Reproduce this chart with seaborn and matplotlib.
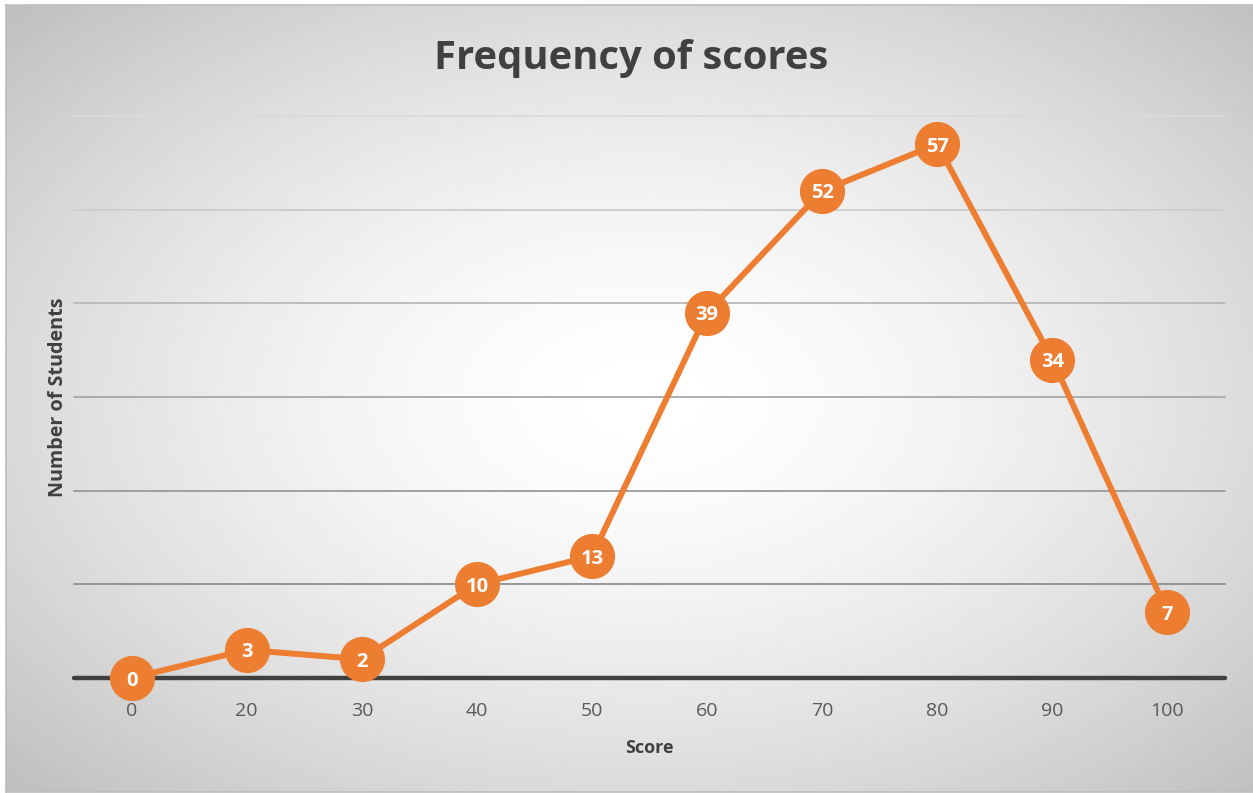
import numpy as np
import pandas as pd
import matplotlib
matplotlib.use("Agg")
import matplotlib.pyplot as plt
import seaborn as sns
from matplotlib.colors import LinearSegmentedColormap

scores = ["0", "20", "30", "40", "50", "60", "70", "80", "90", "100"]
students = [0, 3, 2, 10, 13, 39, 52, 57, 34, 7]
y_gridlines = [10, 20, 30, 40, 50, 60]

sns.set_theme(style="white")
plt.rcParams["font.family"] = ["Open Sans", "DejaVu Sans"]

W, H, DPI = 12.53, 7.93, 100
fig = plt.figure(figsize=(W, H), dpi=DPI)
fig.patch.set_facecolor("white")

# soft radial backdrop for the chart area
bg = fig.add_axes([6 / 1253, 1 / 793, 1 - 6 / 1253, 1 - 6 / 793], zorder=0)
nx, ny = 600, 400
gx, gy = np.meshgrid(np.linspace(0, 1, nx), np.linspace(0, 1, ny))
dx = (gx - 0.51) / 0.5
dy = (gy - 0.50) / 0.5
r = np.sqrt(dx ** 2 + dy ** 2) / np.sqrt(2)
shade = 1 - 0.25 * np.clip(r, 0, 1.2) ** 1.6
grey = LinearSegmentedColormap.from_list("g", ["#000000", "#ffffff"])
bg.imshow(shade, cmap=grey, vmin=0, vmax=1, aspect="auto", extent=[0, 1, 0, 1],
          interpolation="bilinear")
bg.set_xticks([]); bg.set_yticks([])
for s in bg.spines.values():
    s.set_color("#bdbdbd"); s.set_linewidth(1.2)
bg.spines["right"].set_visible(False)

ax = fig.add_axes([74 / 1253, 1 - 678 / 793, (1225 - 74) / 1253, (678 - 116) / 793], zorder=1)
ax.patch.set_alpha(0)

df = pd.DataFrame({"Score": scores, "Students": students})
orange = "#ED7D31"

# gridlines shade from light at top to darker near the baseline
gl_cols = ["#8e8e8e", "#9a9a9a", "#a8a8a8", "#b8b8b8", "#cccccc", "#dadada"]
for v, c in zip(y_gridlines, gl_cols):
    ax.axhline(v, color=c, lw=1.3, zorder=1)
ax.axhline(0, color="#404040", lw=3.2, zorder=2)

sns.pointplot(data=df, x="Score", y="Students", order=scores, color=orange,
              markers="o", markersize=32.5, linewidth=4.3, errorbar=None, ax=ax)
for coll in ax.collections:
    coll.set_zorder(3)
for ln in ax.lines:
    ln.set_zorder(3)
    ln.set_clip_on(False)
    ln.set_markeredgewidth(0)

for i, v in enumerate(students):
    ax.text(i, v, str(v), ha="center", va="center_baseline", color="white",
            fontsize=14.5, fontweight="bold", zorder=5)

ax.set_xlim(-0.5, len(scores) - 0.5)
ax.set_ylim(0, 60)
ax.set_yticks([])
ax.tick_params(axis="x", length=0, labelsize=14, labelcolor="#595959", pad=17)
for s in ax.spines.values():
    s.set_visible(False)

ax.set_xlabel("Score", fontsize=13, fontweight="bold", color="#404040", labelpad=14)
ax.set_ylabel("Number of Students", fontsize=14.2, fontweight="bold", color="#404040", labelpad=4)

fig.text(631 / 1253, 1 - 58 / 793, "Frequency of scores", ha="center", va="center",
         fontsize=28.8, fontweight="bold", color="#404040")

fig.savefig("out.png", dpi=DPI)
